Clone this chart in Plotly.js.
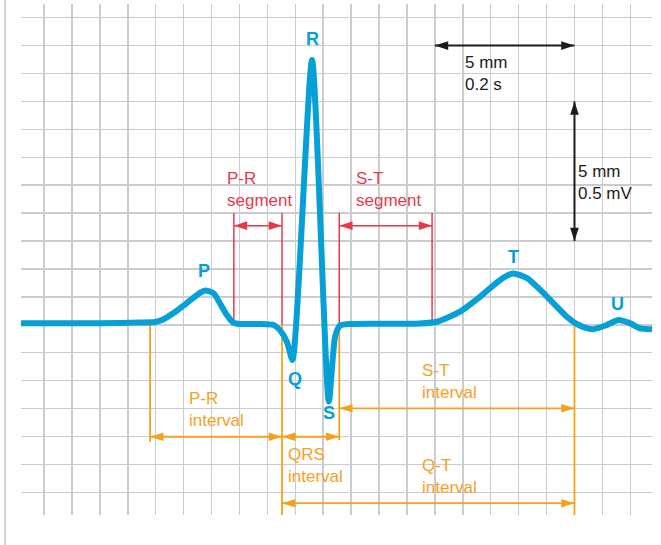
<!DOCTYPE html>
<html>
<head>
<meta charset="utf-8">
<script src="https://cdn.plot.ly/plotly-3.0.1.min.js"></script>
<style>html,body{margin:0;padding:0;background:#fff;}#chart{width:661px;height:545px;}</style>
</head>
<body>
<div id="chart"></div>
<script>
// ECG trace: time (s) and amplitude (mV), 1 small square = 0.04 s x 0.1 mV
const timeS = [-0.033, 0.023, 0.080, 0.138, 0.159, 0.169, 0.185, 0.204, 0.224, 0.231, 0.243, 0.252, 0.262, 0.271, 0.281, 0.309, 0.329, 0.338, 0.348, 0.356, 0.384, 0.408, 0.417, 0.424, 0.438, 0.481, 0.539, 0.563, 0.596, 0.625, 0.653, 0.672, 0.692, 0.711, 0.730, 0.749, 0.763, 0.775, 0.787, 0.806, 0.823, 0.840, 0.854, 0.871];
const voltMV = [0.006, 0.006, 0.006, 0.008, 0.010, 0.017, 0.041, 0.077, 0.115, 0.123, 0.113, 0.077, 0.035, 0.008, 0.003, 0.003, -0.001, -0.019, -0.061, -0.126, 0.948, -0.275, -0.043, -0.003, 0.003, 0.004, 0.005, 0.011, 0.047, 0.101, 0.160, 0.184, 0.167, 0.125, 0.077, 0.029, 0.003, -0.010, -0.016, -0.001, 0.017, 0.005, -0.013, -0.016];

// Wave labels
const waveNames = ['P', 'Q', 'R', 'S', 'T', 'U'];
const waveLabelT = [0.229, 0.360, 0.385, 0.408, 0.672, 0.821];
const waveLabelV = [0.194, -0.193, 1.023, -0.316, 0.244, 0.074];

// Segments and intervals (start, end in s)
const prSegment = [0.272, 0.341];
const stSegment = [0.423, 0.556];
const prInterval = [0.152, 0.341];
const qrsInterval = [0.341, 0.423];
const stInterval = [0.423, 0.760];
const qtInterval = [0.341, 0.760];

// Calibration: 5 mm = 0.2 s, 5 mm = 0.5 mV
const timeScale = [0.56, 0.76];
const voltScale = [0.3, 0.8];

const BLUE = '#05a0d5', RED = '#e63a4a', ORANGE = '#f6a11d', BLACK = '#1c1c1c', GRID = '#c9cdd1';
const FONT = "'Liberation Sans', Arial, sans-serif";

const traces = [];
function vline(t, v0, v1, color, w) {
  traces.push({x: [t, t], y: [v0, v1], mode: 'lines', line: {color: color, width: w}, hoverinfo: 'skip'});
}
function harrow(pair, v, color, w) {
  traces.push({x: pair, y: [v, v], mode: 'lines+markers', line: {color: color, width: w},
    marker: {symbol: 'arrow', size: 14, color: color, angle: [270, 90], line: {width: 0}}, hoverinfo: 'skip'});
}
function varrow(t, pair, color, w) {
  traces.push({x: [t, t], y: pair, mode: 'lines+markers', line: {color: color, width: w},
    marker: {symbol: 'arrow', size: 14, color: color, angle: [180, 0], line: {width: 0}}, hoverinfo: 'skip'});
}

// red segment brackets
vline(prSegment[0], 0.40, 0.005, RED, 1.5);
vline(prSegment[1], 0.40, 0.0, RED, 1.5);
vline(stSegment[0], 0.40, 0.0, RED, 1.5);
vline(stSegment[1], 0.40, 0.01, RED, 1.5);
harrow(prSegment, 0.355, RED, 1.5);
harrow(stSegment, 0.355, RED, 1.5);

// orange interval brackets
vline(prInterval[0], 0.0, -0.419, ORANGE, 1.8);
vline(qrsInterval[0], 0.0, -0.681, ORANGE, 1.8);
vline(qrsInterval[1], 0.0, -0.413, ORANGE, 1.8);
vline(qtInterval[1], 0.0, -0.681, ORANGE, 1.8);
harrow(prInterval, -0.401, ORANGE, 1.8);
harrow(qrsInterval, -0.401, ORANGE, 1.8);
harrow(stInterval, -0.299, ORANGE, 1.8);
harrow(qtInterval, -0.639, ORANGE, 1.8);

// calibration arrows
harrow(timeScale, 1.0, BLACK, 2);
varrow(timeScale[1], voltScale, BLACK, 2);

// ECG
traces.push({x: timeS, y: voltMV, mode: 'lines', line: {color: BLUE, width: 6, shape: 'spline', smoothing: 0.6}, hoverinfo: 'skip'});

const annotations = [];
waveNames.forEach((n, i) => annotations.push({x: waveLabelT[i], y: waveLabelV[i], xref: 'x', yref: 'y', text: '<b>' + n + '</b>', showarrow: false,
  xanchor: 'center', yanchor: 'middle', font: {family: FONT, size: 18, color: BLUE}}));
function note(t, v, text, color) {
  annotations.push({x: t, y: v, xref: 'x', yref: 'y', text: text, showarrow: false, align: 'left',
    xanchor: 'left', yanchor: 'middle', xshift: -3, font: {family: FONT, size: 17, color: color}});
}
note(0.605, 0.901, '5 mm<br>0.2 s', BLACK);
note(0.766, 0.511, '5 mm<br>0.5 mV', BLACK);
note(0.264, 0.483, 'P-R<br>segment', RED);
note(0.448, 0.483, 'S-T<br>segment', RED);
note(0.209, -0.305, 'P-R<br>interval', ORANGE);
note(0.351, -0.505, 'QRS<br>interval', ORANGE);
note(0.543, -0.203, 'S-T<br>interval', ORANGE);
note(0.543, -0.543, 'Q-T<br>interval', ORANGE);

const layout = {
  width: 661, height: 545,
  margin: {l: 21, r: 9, t: 4, b: 30, pad: 0},
  paper_bgcolor: '#ffffff', plot_bgcolor: '#ffffff',
  showlegend: false,
  xaxis: {range: [-0.03295, 0.87106], dtick: 0.04, tick0: 0, showgrid: true, gridcolor: GRID, gridwidth: 1.5,
    zeroline: false, showticklabels: false, ticks: '', showline: false, fixedrange: true},
  yaxis: {range: [-0.68123, 1.149], dtick: 0.1, tick0: 0, showgrid: true, gridcolor: GRID, gridwidth: 1.5,
    zeroline: false, showticklabels: false, ticks: '', showline: false, fixedrange: true},
  shapes: [{type: 'line', xref: 'paper', yref: 'paper', x0: -0.0254, x1: -0.0254, y0: -0.06, y1: 1.01,
    line: {color: '#d3d6da', width: 2}, layer: 'below'}],
  annotations: annotations
};
Plotly.newPlot('chart', traces, layout, {displayModeBar: false, staticPlot: true});
</script>
</body>
</html>
